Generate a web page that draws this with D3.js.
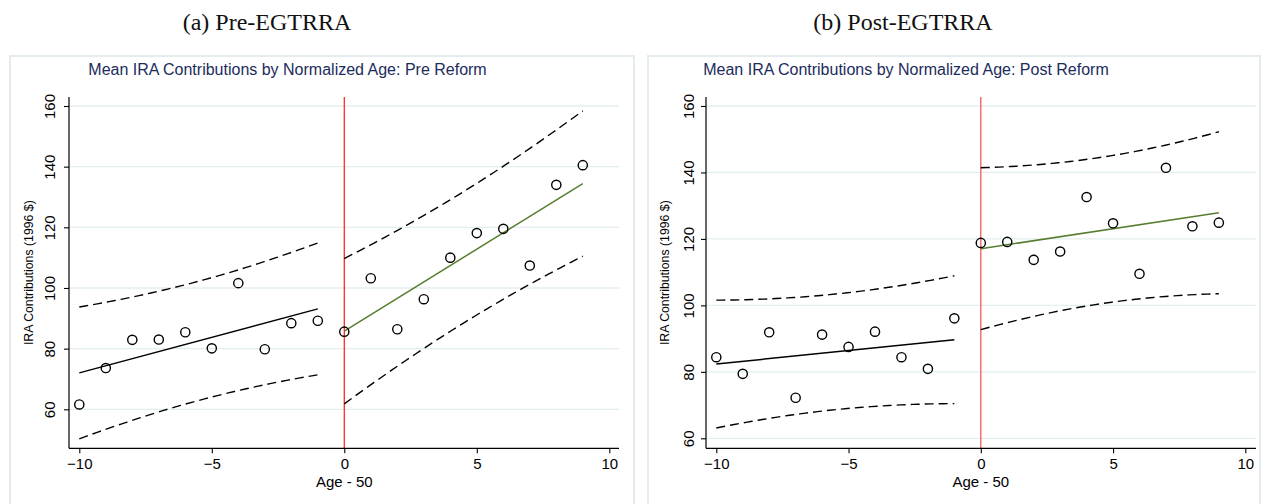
<!DOCTYPE html>
<html>
<head>
<meta charset="utf-8">
<script src="https://cdn.jsdelivr.net/npm/d3@7"></script>
<style>
  html, body { margin: 0; padding: 0; background: #ffffff; }
  svg { display: block; }
  text { font-family: "Liberation Sans", Arial, sans-serif; }
</style>
</head>
<body>
<svg id="chart" width="1262" height="504"></svg>
<script>
// Normalized age bins (age minus 50)
const ageBins = [-10, -9, -8, -7, -6, -5, -4, -3, -2, -1, 0, 1, 2, 3, 4, 5, 6, 7, 8, 9];

// Mean IRA contributions (1996 $) per age bin
const preReformMeans = [61.6, 73.6, 82.9, 83.0, 85.4, 80.1, 101.6, 79.8, 88.4, 89.2,
                        85.6, 103.2, 86.4, 96.3, 110.0, 118.1, 119.5, 107.4, 134.0, 140.5];
const postReformMeans = [84.4, 79.4, 91.9, 72.2, 91.2, 87.5, 92.1, 84.4, 80.9, 96.1,
                         118.8, 119.1, 113.7, 116.2, 132.6, 124.7, 109.5, 141.4, 123.8, 124.9];

// Tick labels
const xTicks = [-10, -5, 0, 5, 10];
const yTicks = [60, 80, 100, 120, 140, 160];

// Text
const panelCaptions = ["(a) Pre-EGTRRA", "(b) Post-EGTRRA"];
const panelTitles = ["Mean IRA Contributions by Normalized Age: Pre Reform",
                     "Mean IRA Contributions by Normalized Age: Post Reform"];
const xAxisTitle = "Age - 50";
const yAxisTitle = "IRA Contributions (1996 $)";

// Layout of the two panels
const panels = [
  { values: preReformMeans, caption: panelCaptions[0], title: panelTitles[0],
    frame: [10, 56, 624, 470], captionX: 267, titleX: 287.5,
    axisX: 69, axisRight: 619, xRange: [79.3, 609.3], yRange: [409.3, 106],
    tickLabelOffset: 14, yTitleX: 33.3, cutColor: "#ff2a2a" },
  { values: postReformMeans, caption: panelCaptions[1], title: panelTitles[1],
    frame: [648, 56, 612, 470], captionX: 903, titleX: 906,
    axisX: 706, axisRight: 1256, xRange: [716.3, 1245.3], yRange: [438.3, 106],
    tickLabelOffset: 12.5, yTitleX: 669, cutColor: "#f25a5a" }
];
const plotTop = 97, plotBottom = 448.3;

// Two-sided 97.5% t quantile with 8 degrees of freedom (10 bins per side)
const T_975_DF8 = 2.306004;

// Least-squares line and 95% forecast band for one side of the cutoff
function fitWithBand(xs, ys) {
  const n = xs.length;
  const mx = d3.mean(xs), my = d3.mean(ys);
  const sxx = d3.sum(xs, x => (x - mx) * (x - mx));
  const sxy = d3.sum(xs, (x, i) => (x - mx) * (ys[i] - my));
  const b = sxy / sxx, a = my - b * mx;
  const rss = d3.sum(xs, (x, i) => Math.pow(ys[i] - (a + b * x), 2));
  const s = Math.sqrt(rss / (n - 2));
  const lo = d3.min(xs), hi = d3.max(xs);
  const grid = d3.range(0, 41).map(k => lo + (hi - lo) * k / 40);
  const pts = grid.map(x => {
    const yhat = a + b * x;
    const half = T_975_DF8 * s * Math.sqrt(1 + 1 / n + (x - mx) * (x - mx) / sxx);
    return { x, yhat, lower: yhat - half, upper: yhat + half };
  });
  return { line: [{ x: lo, y: a + b * lo }, { x: hi, y: a + b * hi }], pts };
}

const svg = d3.select("#chart");

panels.forEach(p => {
  const g = svg.append("g");
  const x = d3.scaleLinear().domain([-10, 10]).range(p.xRange);
  const y = d3.scaleLinear().domain([60, 160]).range(p.yRange);

  // outer frame
  g.append("rect")
    .attr("x", p.frame[0]).attr("y", p.frame[1])
    .attr("width", p.frame[2]).attr("height", p.frame[3])
    .attr("fill", "none").attr("stroke", "#e4ecee").attr("stroke-width", 2);

  // panel caption above the frame
  svg.append("text")
    .attr("x", p.captionX).attr("y", 30)
    .attr("text-anchor", "middle")
    .style("font-family", "'Liberation Serif', 'DejaVu Serif', serif")
    .style("font-size", "24px").attr("fill", "#111")
    .text(p.caption);

  // chart title
  g.append("text")
    .attr("x", p.titleX).attr("y", 75)
    .attr("text-anchor", "middle")
    .style("font-size", "16px").attr("fill", "#1c2c5c")
    .text(p.title);

  // horizontal grid lines
  g.append("g").selectAll("line").data(yTicks).join("line")
    .attr("x1", p.axisX).attr("x2", p.axisRight)
    .attr("y1", d => y(d)).attr("y2", d => y(d))
    .attr("stroke", "#e4eef0").attr("stroke-width", 1.3);

  // cutoff at age 50
  g.append("line")
    .attr("x1", x(0)).attr("x2", x(0))
    .attr("y1", plotTop).attr("y2", plotBottom)
    .attr("stroke", p.cutColor).attr("stroke-width", 1.3);

  // fits on each side of the cutoff
  const sides = [
    { keep: a => a < 0, color: "#000000" },
    { keep: a => a >= 0, color: "#587d30" }
  ];
  sides.forEach(side => {
    const idx = ageBins.map((a, i) => i).filter(i => side.keep(ageBins[i]));
    const xs = idx.map(i => ageBins[i]);
    const ys = idx.map(i => p.values[i]);
    const fit = fitWithBand(xs, ys);

    ["lower", "upper"].forEach(key => {
      g.append("path")
        .datum(fit.pts)
        .attr("fill", "none").attr("stroke", "#000")
        .attr("stroke-width", 1.4).attr("stroke-dasharray", "9,5")
        .attr("d", d3.line().x(d => x(d.x)).y(d => y(d[key])));
    });

    g.append("path")
      .datum(fit.line)
      .attr("fill", "none").attr("stroke", side.color)
      .attr("stroke-width", 1.5)
      .attr("d", d3.line().x(d => x(d.x)).y(d => y(d.y)));
  });

  // bin means
  g.append("g").selectAll("circle").data(ageBins).join("circle")
    .attr("cx", d => x(d))
    .attr("cy", (d, i) => y(p.values[i]))
    .attr("r", 4.6)
    .attr("fill", "none").attr("stroke", "#000").attr("stroke-width", 1.4);

  // y axis
  const yAxis = g.append("g")
    .attr("transform", `translate(${p.axisX},0)`)
    .call(d3.axisLeft(y).tickValues(yTicks).tickSize(5).tickSizeOuter(0));
  yAxis.attr("font-family", null).attr("font-size", null);
  yAxis.select(".domain").attr("d", `M0,${plotTop}V${plotBottom}`)
    .attr("stroke", "#000").attr("stroke-width", 1.2);
  yAxis.selectAll(".tick line").attr("stroke", "#000").attr("stroke-width", 1.1);
  yAxis.selectAll(".tick text")
    .attr("x", null).attr("dy", null).attr("y", null)
    .attr("transform", `translate(${-p.tickLabelOffset},0) rotate(-90)`)
    .attr("text-anchor", "middle")
    .style("font-size", "15px").attr("fill", "#000");

  // x axis
  const xAxis = g.append("g")
    .attr("transform", `translate(0,${plotBottom})`)
    .call(d3.axisBottom(x).tickValues(xTicks).tickSize(5).tickSizeOuter(0));
  xAxis.attr("font-family", null).attr("font-size", null);
  xAxis.select(".domain").attr("d", `M${p.axisX},0H${p.axisRight}`)
    .attr("stroke", "#000").attr("stroke-width", 1.2);
  xAxis.selectAll(".tick line").attr("stroke", "#000").attr("stroke-width", 1.1);
  xAxis.selectAll(".tick text")
    .attr("dy", null).attr("y", 21)
    .style("font-size", "15px").attr("fill", "#000");

  // axis titles
  g.append("text")
    .attr("x", x(0)).attr("y", 487)
    .attr("text-anchor", "middle")
    .style("font-size", "15px").attr("fill", "#000")
    .text(xAxisTitle);

  g.append("text")
    .attr("transform", `translate(${p.yTitleX},${(plotTop + plotBottom) / 2}) rotate(-90)`)
    .attr("text-anchor", "middle")
    .style("font-size", "12.3px").attr("fill", "#000")
    .text(yAxisTitle);
});
</script>
</body>
</html>
